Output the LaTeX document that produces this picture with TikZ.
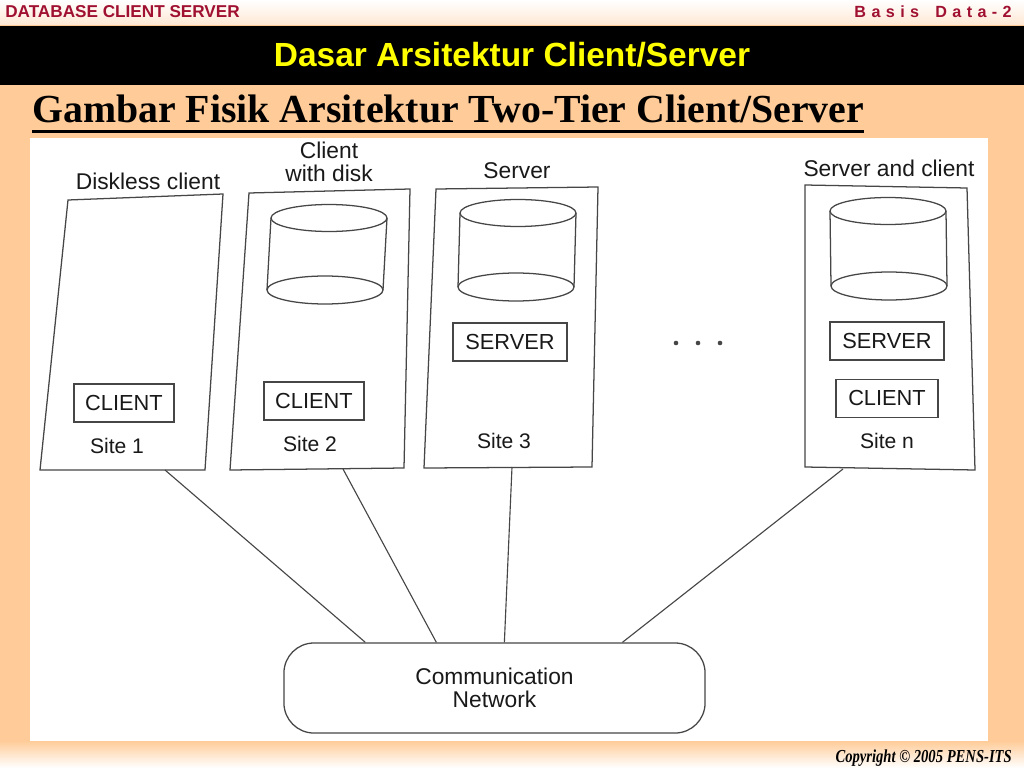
\documentclass[tikz,border=0pt]{standalone}
\usepackage{fontspec}
\setmainfont{Liberation Serif}
\setsansfont{Liberation Sans}
\usetikzlibrary{positioning}

\definecolor{peach}{RGB}{255,204,153}
\definecolor{peachlight}{RGB}{255,232,212}
\definecolor{headred}{RGB}{160,16,48}
\definecolor{banneryellow}{RGB}{255,255,0}
\definecolor{scanline}{RGB}{70,70,70}

\tikzset{
  sitebox/.style={draw=scanline, line width=0.9pt},
  disk/.style={draw=scanline, line width=0.9pt},
  unitbox/.style={draw=scanline, line width=0.9pt, minimum height=0.95cm, inner sep=0pt, text=black!90, font=\sffamily\fontsize{15.5}{18}\selectfont},
  sitelabel/.style={text=black!90, font=\sffamily\fontsize{15}{18}\selectfont},
  toplabel/.style={align=center, text=black!90, font=\sffamily\fontsize{16.2}{16.8}\selectfont},
  link/.style={draw=scanline, line width=0.8pt}
}

\begin{document}
\begin{tikzpicture}[x=0.025cm, y=-0.025cm]
				\useasboundingbox (0,0) rectangle (1024,768);
				\fill[peach] (0,0) rectangle (1024,768);
				\shade[top color=white, bottom color=peachlight] (0,0) rectangle (1024,25);
				\fill[black] (0,26) rectangle (1024,85);
				\fill[white] (30,138) rectangle (988,741);
				\shade[top color=peach, bottom color=white] (0,741) rectangle (1024,768);
				
				\node[anchor=base west, inner sep=0pt, text=headred, font=\sffamily\bfseries\fontsize{12.2}{14}\selectfont] (course) at (5,18) {DATABASE CLIENT SERVER};
				\node[anchor=base east, inner sep=0pt, text=headred, font=\sffamily\bfseries\fontsize{11.5}{14}\selectfont] (subject) at (1012,18) {B\,\,a\,\,s\,\,i\,\,s\quad D\,\,a\,\,t\,\,a\,\,-\,\,2};
				\node[anchor=base, inner sep=0pt, text=banneryellow, font=\sffamily\bfseries\fontsize{23.8}{28}\selectfont] (banner) at (512,67) {Dasar Arsitektur Client/Server};
				\node[anchor=base west, inner sep=0pt, font=\rmfamily\bfseries\fontsize{28.3}{32}\selectfont] (title) at (32,123) {Gambar Fisik Arsitektur Two-Tier Client/Server};
				\draw[line width=2pt] ([yshift=-0.22cm]title.base west) -- ([yshift=-0.22cm]title.base east);
				\node[anchor=base east, inner sep=0pt, xscale=0.8, font=\rmfamily\bfseries\itshape\fontsize{13}{15}\selectfont] (copyright) at (1012,762) {Copyright \textcopyright{} 2005 PENS-ITS};
				
				\draw[sitebox] (68,200) -- (223,194) -- (205,470) -- (40,470) -- cycle;
				\draw[sitebox] (249,193) -- (410,189) -- (404,468) -- (230,470) -- cycle;
				\draw[sitebox] (436,189) -- (598,187) -- (592,467) -- (424,468) -- cycle;
				\draw[sitebox] (805,185) -- (967,188) -- (975,470) -- (805,467) -- cycle;
				
				\foreach \tx/\ty/\bx/\by in {329/218/325/290, 518/213/516/287, 888/211/889/286}{
					\draw[disk] (\tx,\ty) ellipse [x radius=58, y radius=13.5];
					\draw[disk] (\bx,\by) ellipse [x radius=58, y radius=14];
					\draw[disk] ({\tx-58},\ty) -- ({\bx-58},\by);
					\draw[disk] ({\tx+58},\ty) -- ({\bx+58},\by);
				}
				
				\node[unitbox, minimum width=2.5cm] (client1) at (124,403) {CLIENT};
				\node[unitbox, minimum width=2.5cm] (client2) at (314,401) {CLIENT};
				\node[unitbox, minimum width=2.85cm] (server3) at (510,342) {SERVER};
				\node[unitbox, minimum width=2.85cm] (servern) at (887,341) {SERVER};
				\node[unitbox, minimum width=2.55cm, below=0.45cm of servern] (clientn) {CLIENT};
				
				\node[toplabel] (label1) at (148,181) {Diskless client};
				\node[toplabel] (label2) at (329,162) {Client\\with disk};
				\node[toplabel] (label3) at (517,171) {Server};
				\node[toplabel] (labeln) at (889,168) {Server and client};
				
				\node[sitelabel] (site1) at (117,446) {Site 1};
				\node[sitelabel] (site2) at (310,444) {Site 2};
				\node[sitelabel] (site3) at (504,441) {Site 3};
				\node[sitelabel] (siten) at (887,441) {Site n};
				
				\foreach \dx in {676,698,720}
					\fill[scanline] (\dx,343) circle [radius=2.3];
				
				\node[draw=scanline, line width=0.9pt, rounded corners=0.75cm, minimum width=10.525cm, minimum height=2.25cm, align=center, text=black!90, font=\sffamily\fontsize{16.2}{16.8}\selectfont] (net) at (494.5,688) {Communication\\Network};
				
				\coordinate (s1) at (165,470);
				\coordinate (s2) at (343,469);
				\coordinate (s3) at (512,467);
				\coordinate (sn) at (843,469);
				\coordinate (n1) at ([xshift=2.05cm]net.north west);
				\coordinate (n2) at ([xshift=3.825cm]net.north west);
				\coordinate (n3) at ([xshift=5.525cm]net.north west);
				\coordinate (nn) at ([xshift=8.475cm]net.north west);
				\foreach \i in {1,2,3,n}
					\draw[link] (s\i) -- (n\i);
			\end{tikzpicture}
\end{document}
